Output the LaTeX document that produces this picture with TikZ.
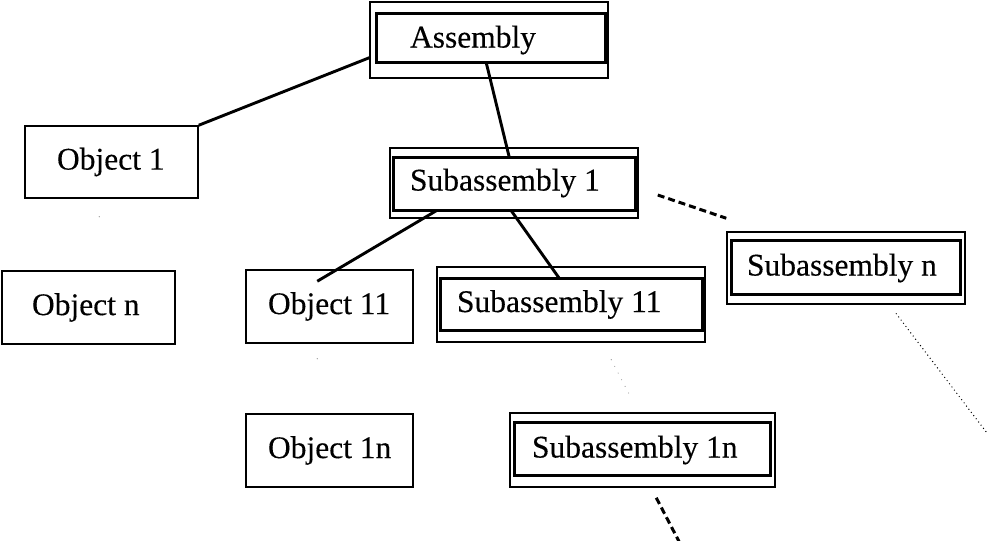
\documentclass[tikz,border=0pt]{standalone}
\usepackage{fontspec}
\setmainfont[FakeBold=0.3]{Liberation Serif}
\usetikzlibrary{calc}
% fixed-width label, set flush left after a given indent
\newcommand{\padtext}[3]{\makebox[#1pt][l]{\hspace*{#2pt}#3}}
% inner frame of a double-framed box: node, left, top, right, bottom insets
\newcommand{\innerframe}[5]{\draw[inframe] ($(#1.north west)+(#2,#3)$) rectangle ($(#1.south east)+(-#4,-#5)$);}

\begin{document}
\begin{tikzpicture}[x=1pt,y=-1pt,
  box/.style={draw, line width=1.5pt, inner sep=0pt, font=\fontsize{31.5}{36}\selectfont},
  inframe/.style={line width=2.6pt},
  link/.style={line width=2.9pt},
  dashlink/.style={line width=3pt, dash pattern=on 7pt off 4pt},
  dotlink/.style={line width=1.4pt, line cap=round, dash pattern=on 0pt off 4pt},
  faint/.style={line width=1.1pt, black!45, line cap=round}]
\useasboundingbox (0,0) rectangle (989,541);

% assemblies (double frame)
\node[box, minimum width=238pt, minimum height=76pt] (asm) at (489,40) {\padtext{238}{40}{Assembly}};
\node[box, minimum width=248pt, minimum height=70pt] (sa1) at (514,183) {\padtext{248}{20}{Subassembly 1}};
\node[box, minimum width=268pt, minimum height=75pt] (sa11) at (571,304.5) {\padtext{268}{20}{Subassembly 11}};
\node[box, minimum width=238pt, minimum height=72pt] (san) at (846,268) {\padtext{238}{20}{Subassembly n}};
\node[box, minimum width=265pt, minimum height=74pt] (sa1n) at (642.5,450) {\padtext{265}{22}{Subassembly 1n}};
\innerframe{asm}{7}{12}{3}{16}
\innerframe{sa1}{4}{10}{3}{8}
\innerframe{sa11}{4}{12}{3}{12}
\innerframe{san}{5}{9}{5}{10}
\innerframe{sa1n}{5}{10}{5}{12}

% objects (single frame)
\node[box, minimum width=173pt, minimum height=72pt] (obj1) at (111.5,162) {\padtext{173}{32}{Object 1}};
\node[box, minimum width=173pt, minimum height=73pt] (objn) at (88.5,307.5) {\padtext{173}{30}{Object n}};
\node[box, minimum width=167pt, minimum height=73pt] (obj11) at (329.5,306.5) {\padtext{167}{22}{Object 11}};
\node[box, minimum width=167pt, minimum height=73pt] (obj1n) at (329.5,450.5) {\padtext{167}{22}{Object 1n}};

% solid links
\draw[link] ($(asm.south west)+(0,-21)$) -- (obj1.north east);
\draw[link] ($(asm.south west)+(117,-16)$) -- ($(sa1.north west)+(120,10)$);
\draw[link] ($(sa1.south west)+(47,-8)$) -- ($(obj11.north west)+(72,12)$);
\draw[link] ($(sa1.south west)+(122,-8)$) -- ($(sa11.north west)+(123,12)$);

% dashed links
\coordinate (d1a) at ($(sa1.east)+(19,12)$);
\coordinate (d1b) at ($(san.north west)+(0,-13)$);
\draw[dashlink] (d1a) -- (d1b);
\coordinate (d2a) at ($(sa1n.south west)+(147,10)$);
\coordinate (d2b) at ($(sa1n.south west)+(172,58)$);
\draw[dashlink] (d2a) -- (d2b);

% dotted link running off to the right
\coordinate (t1a) at ($(san.south west)+(170,9)$);
\coordinate (t1b) at (987,433);
\draw[dotlink] (t1a) -- (t1b);

% faint dotted continuations
\coordinate (f1a) at ($(obj1.south west)+(75,18)$);
\coordinate (f1b) at ($(objn.north west)+(98,-36)$);
\draw[faint, dash pattern=on 0pt off 19pt] (f1a) -- (f1b);
\coordinate (f2a) at ($(obj11.south west)+(72,15)$);
\coordinate (f2b) at ($(obj1n.north west)+(72,-30)$);
\draw[faint, dash pattern=on 0pt off 25pt] (f2a) -- (f2b);
\coordinate (f3a) at ($(sa11.south west)+(175,17)$);
\coordinate (f3b) at ($(sa1n.north west)+(121,-16)$);
\draw[faint, dash pattern=on 0pt off 7.5pt] (f3a) -- (f3b);
\end{tikzpicture}
\end{document}
